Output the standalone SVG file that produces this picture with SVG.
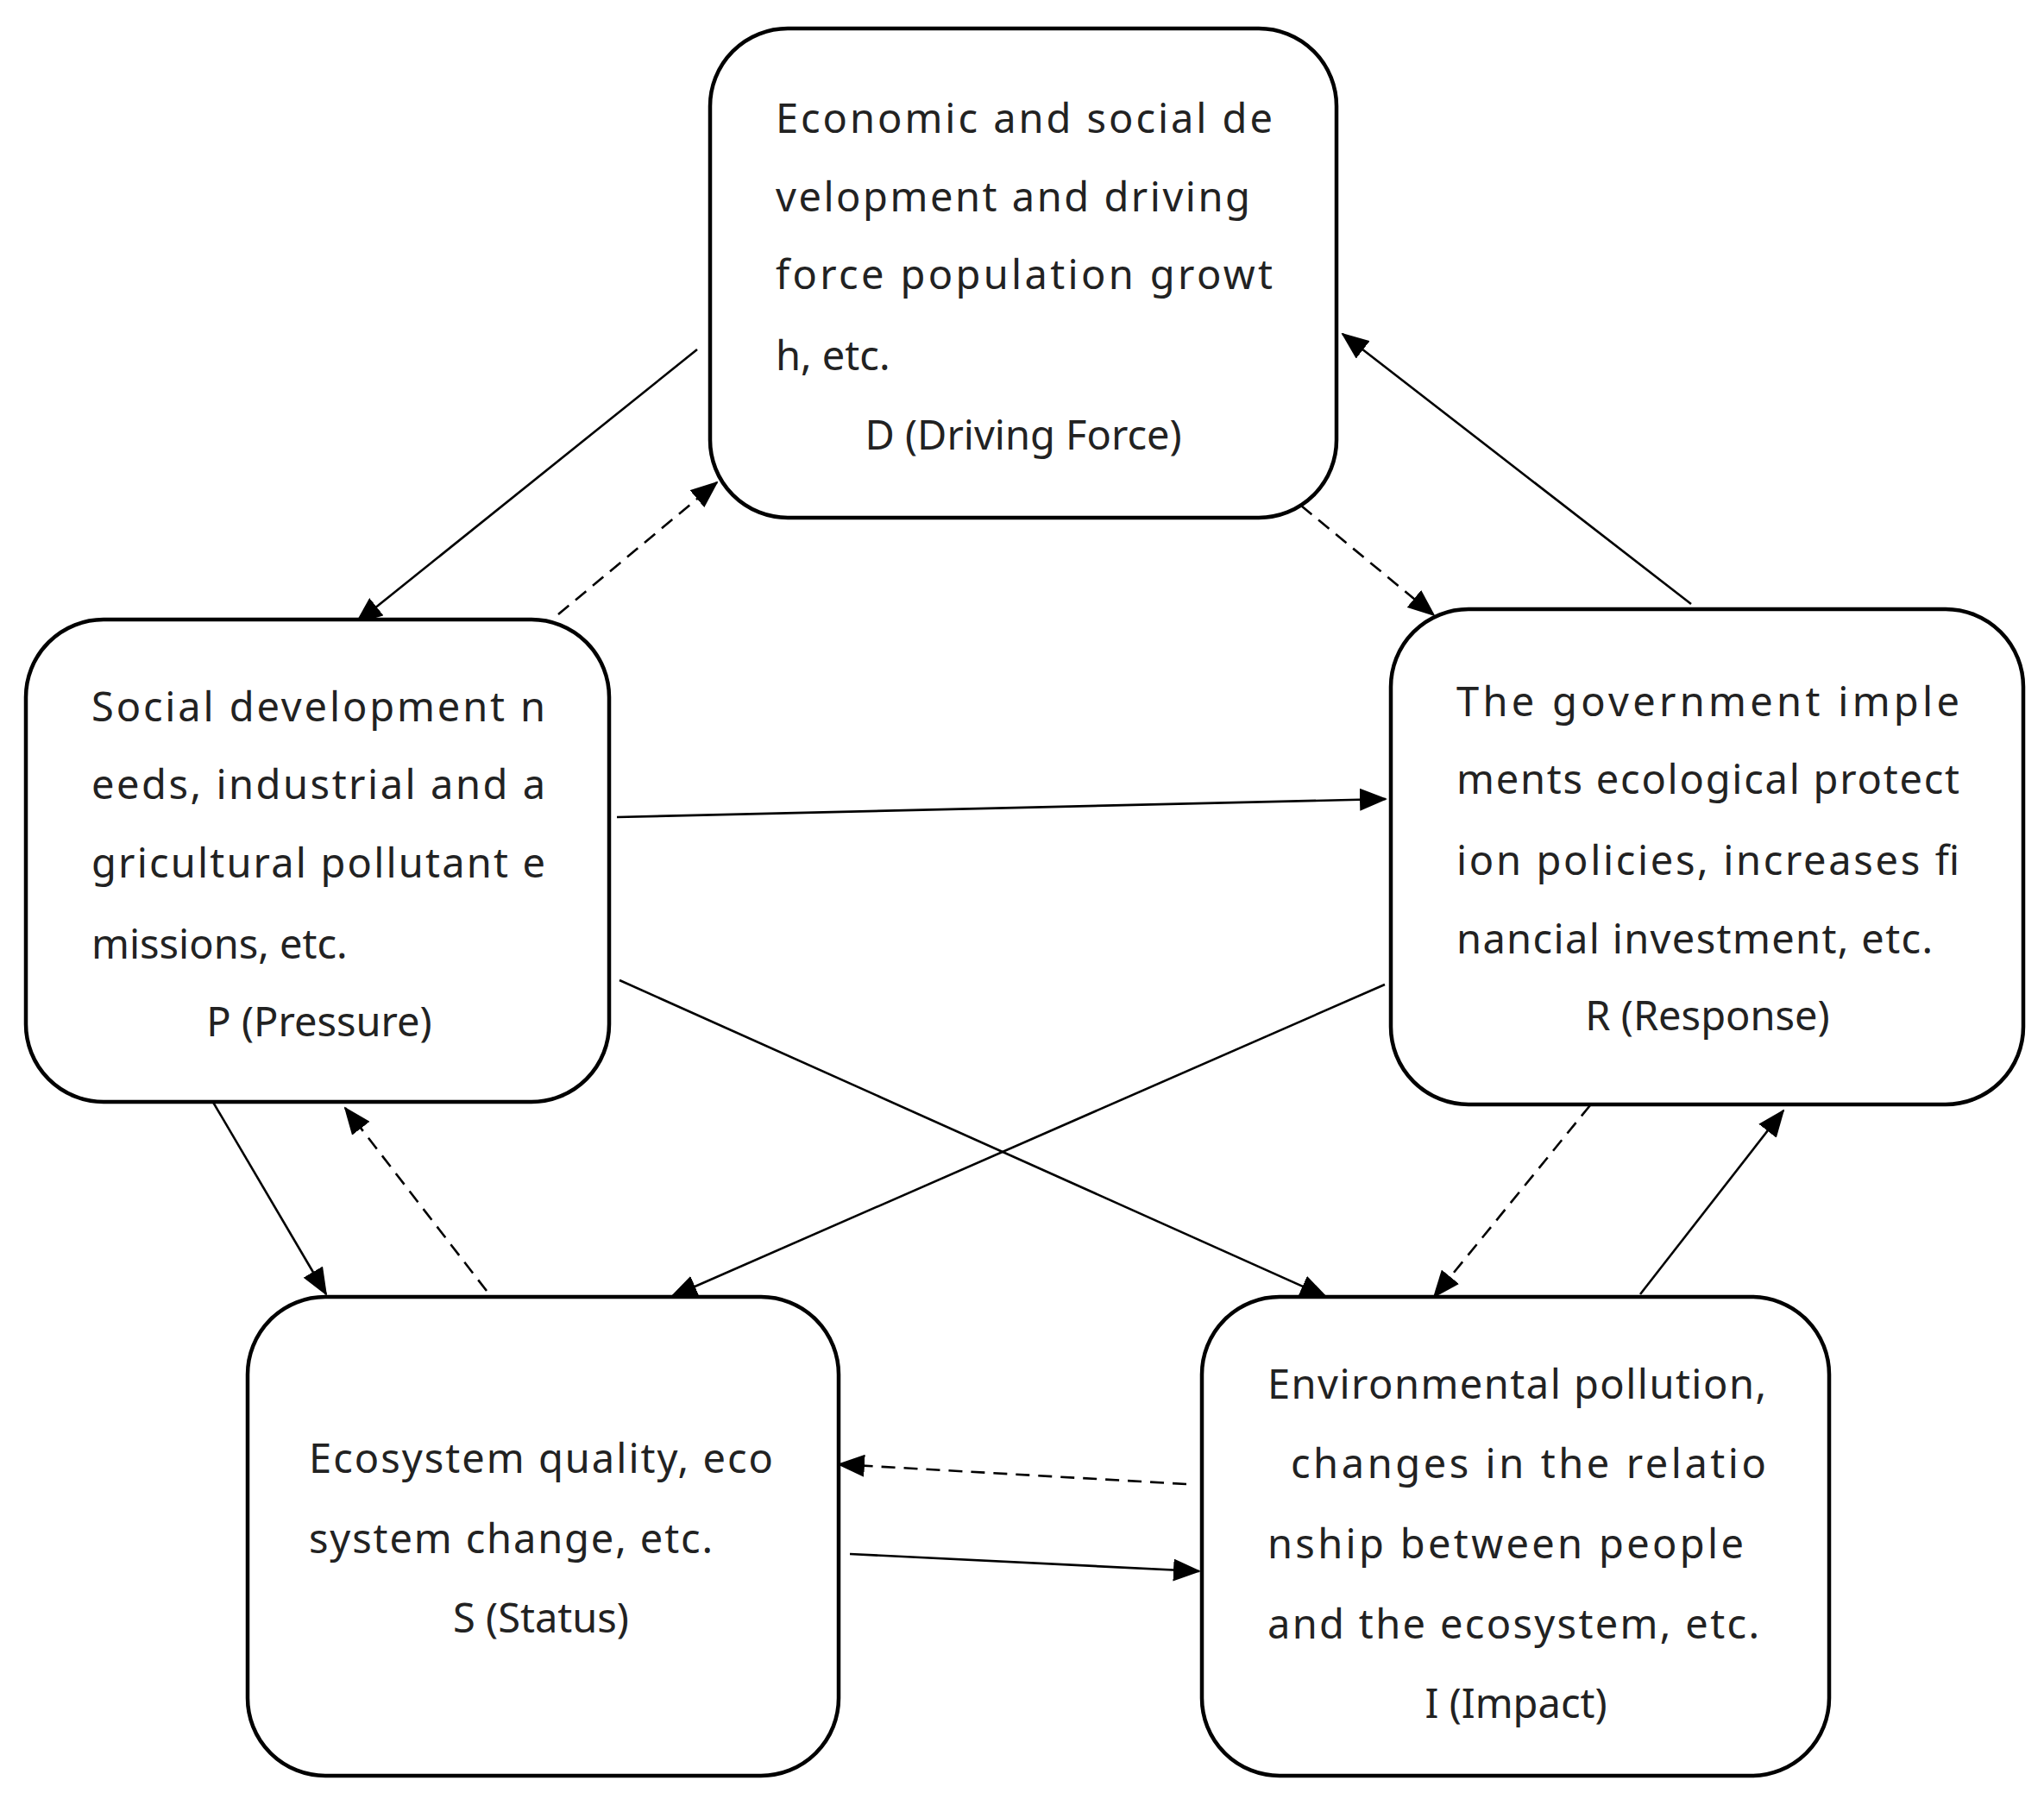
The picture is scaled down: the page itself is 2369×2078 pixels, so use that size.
<svg xmlns="http://www.w3.org/2000/svg" width="2369" height="2078" viewBox="0 0 2369 2078">
<style>
.box{fill:#fff;stroke:#000;stroke-width:4.5}
text{font-family:"Noto Sans","Open Sans",sans-serif;font-size:47px;fill:#222}
.c{text-anchor:middle}
.ln{stroke:#000;stroke-width:2.6;fill:none;marker-end:url(#ah)}
.d{stroke-dasharray:16 10}
</style>
<defs>
<marker id="ah" markerUnits="userSpaceOnUse" markerWidth="32" markerHeight="26" refX="30" refY="13" orient="auto">
<path d="M0,0 L32,13 L0,26 Z" fill="#000"/>
</marker>
</defs>
<rect width="2369" height="2078" fill="#fff"/>
<g id="connectors">
<line class="ln" x1="808" y1="405" x2="413" y2="722"/>
<line class="ln d" x1="647" y1="712" x2="831" y2="559"/>
<line class="ln d" x1="1508" y1="586" x2="1662" y2="713"/>
<line class="ln" x1="1960" y1="700" x2="1556" y2="387"/>
<line class="ln" x1="715" y1="947" x2="1606" y2="926"/>
<line class="ln" x1="718" y1="1136" x2="1537" y2="1503"/>
<line class="ln" x1="1605" y1="1141" x2="778" y2="1503"/>
<line class="ln" x1="245" y1="1274" x2="378" y2="1500"/>
<line class="ln d" x1="564" y1="1496" x2="400" y2="1284"/>
<line class="ln d" x1="1843" y1="1281" x2="1662" y2="1503"/>
<line class="ln" x1="1901" y1="1500" x2="2067" y2="1287"/>
<line class="ln d" x1="1375" y1="1720" x2="972" y2="1697"/>
<line class="ln" x1="985" y1="1801" x2="1390" y2="1821"/>
</g>
<g id="D">
<rect class="box" x="823" y="33" width="726" height="567" rx="90"/>
<text x="899" y="154" textLength="576">Economic and social de</text>
<text x="899" y="245" textLength="550">velopment and driving</text>
<text x="899" y="335" textLength="576">force population growt</text>
<text x="899" y="429">h, etc.</text>
<text class="c" x="1186" y="521">D (Driving Force)</text>
</g>
<g id="P">
<rect class="box" x="30" y="718" width="676" height="559" rx="90"/>
<text x="106" y="836" textLength="526">Social development n</text>
<text x="106" y="926" textLength="526">eeds, industrial and a</text>
<text x="106" y="1017" textLength="526">gricultural pollutant e</text>
<text x="106" y="1111">missions, etc.</text>
<text class="c" x="370" y="1201">P (Pressure)</text>
</g>
<g id="R">
<rect class="box" x="1612" y="706" width="733" height="574" rx="90"/>
<text x="1688" y="830" textLength="583">The government imple</text>
<text x="1688" y="920" textLength="583">ments ecological protect</text>
<text x="1688" y="1014" textLength="583">ion policies, increases fi</text>
<text x="1688" y="1105" textLength="552">nancial investment, etc.</text>
<text class="c" x="1979" y="1194">R (Response)</text>
</g>
<g id="S">
<rect class="box" x="287" y="1503" width="685" height="555" rx="90"/>
<text x="358" y="1707" textLength="538">Ecosystem quality, eco</text>
<text x="358" y="1800" textLength="468">system change, etc.</text>
<text class="c" x="627" y="1892">S (Status)</text>
</g>
<g id="I">
<rect class="box" x="1393" y="1503" width="727" height="555" rx="90"/>
<text x="1469" y="1621" textLength="578">Environmental pollution,</text>
<text x="1496" y="1713" textLength="551">changes in the relatio</text>
<text x="1469" y="1806" textLength="552">nship between people</text>
<text x="1469" y="1899" textLength="570">and the ecosystem, etc.</text>
<text class="c" x="1757" y="1991">I (Impact)</text>
</g>
</svg>
